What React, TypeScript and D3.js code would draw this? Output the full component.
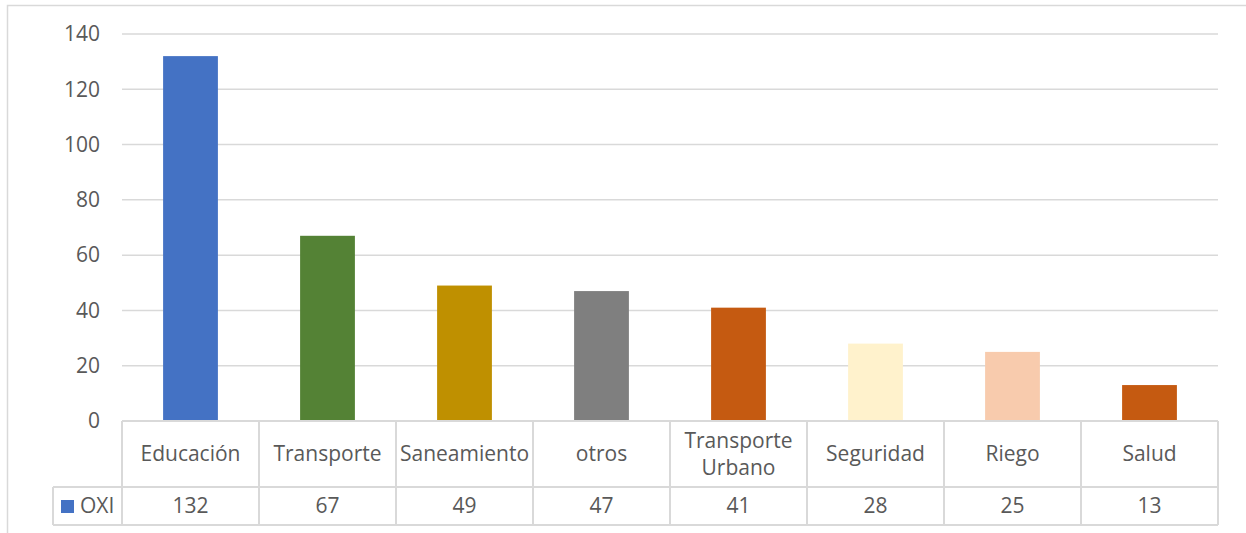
import React from "react";
import * as d3 from "d3";

const categories = ["Educación", "Transporte", "Saneamiento", "otros", "Transporte Urbano", "Seguridad", "Riego", "Salud"];
const categoryLines = [["Educación"], ["Transporte"], ["Saneamiento"], ["otros"], ["Transporte", "Urbano"], ["Seguridad"], ["Riego"], ["Salud"]];
const values = [132, 67, 49, 47, 41, 28, 25, 13];
const barColors = ["#4472C4", "#548235", "#BF9000", "#7F7F7F", "#C55A11", "#FFF2CC", "#F8CBAD", "#C55A11"];
const yTicks = [0, 20, 40, 60, 80, 100, 120, 140];
const seriesName = "OXI";

const W = 1246;
const H = 533;
const plotLeft = 122;
const plotRight = 1218;
const plotTop = 34;
const plotBottom = 421;
const catRowBottom = 487;
const valRowBottom = 525;
const legendLeft = 53;
const textColor = "#595959";
const gridColor = "#D9D9D9";
const font = "'Open Sans', sans-serif";
const fs = 21;

export default function App() {
  const x = d3.scaleBand<string>().domain(categories).range([plotLeft, plotRight]).padding(0);
  const y = d3.scaleLinear().domain([0, 140]).range([plotBottom, plotTop]);
  const bw = x.bandwidth() * 0.4;
  return (
    <svg width={W} height={H} style={{ position: "absolute", left: 0, top: 0, background: "#fff" }}>
      <rect x={7.5} y={5.5} width={W + 10} height={H + 10} fill="#fff" stroke={gridColor} strokeWidth={1.5} />
      {yTicks.map((t) => (
        <g key={t}>
          {t > 0 && <line x1={plotLeft} x2={plotRight} y1={y(t)} y2={y(t)} stroke={gridColor} strokeWidth={1.5} />}
          <text x={100} y={y(t)} dy="0.35em" textAnchor="end" fontFamily={font} fontSize={fs} fill={textColor}>
            {t}
          </text>
        </g>
      ))}
      {categories.map((c, i) => (
        <rect key={c} x={(x(c) as number) + (x.bandwidth() - bw) / 2} y={y(values[i])} width={bw} height={y(0) - y(values[i])} fill={barColors[i]} />
      ))}
      {/* data table */}
      <g stroke={gridColor} strokeWidth={2} fill="none">
        <line x1={plotLeft} x2={plotRight} y1={plotBottom} y2={plotBottom} />
        <line x1={legendLeft} x2={plotRight} y1={catRowBottom} y2={catRowBottom} />
        <line x1={legendLeft} x2={plotRight} y1={valRowBottom} y2={valRowBottom} />
        <line x1={legendLeft} x2={legendLeft} y1={catRowBottom} y2={valRowBottom} />
        {[...categories.map((c) => x(c) as number), plotRight].map((xx, i) => (
          <line key={i} x1={xx} x2={xx} y1={plotBottom} y2={valRowBottom} />
        ))}
      </g>
      {categories.map((c, i) => {
        const cx = (x(c) as number) + x.bandwidth() / 2;
        const lines = categoryLines[i];
        const mid = (plotBottom + catRowBottom) / 2;
        const lh = 27;
        return (
          <g key={c}>
            {lines.map((l, j) => (
              <text key={j} x={cx} y={mid + (j - (lines.length - 1) / 2) * lh} dy="0.35em" textAnchor="middle" fontFamily={font} fontSize={fs} fill={textColor}>
                {l}
              </text>
            ))}
            <text x={cx} y={(catRowBottom + valRowBottom) / 2} dy="0.35em" textAnchor="middle" fontFamily={font} fontSize={fs} fill={textColor}>
              {values[i]}
            </text>
          </g>
        );
      })}
      <rect x={61} y={500} width={13} height={13} fill={barColors[0]} />
      <text x={80} y={(catRowBottom + valRowBottom) / 2} dy="0.35em" fontFamily={font} fontSize={fs} fill={textColor}>
        {seriesName}
      </text>
    </svg>
  );
}
